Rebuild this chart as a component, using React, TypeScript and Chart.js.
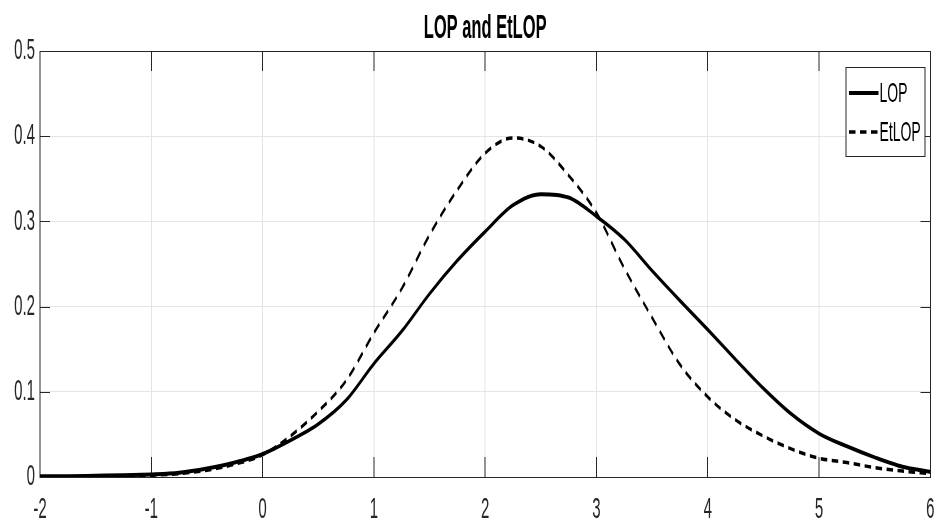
import { useEffect, useRef } from 'react';
import { Chart, registerables } from 'chart.js';

Chart.register(...registerables);

const chartTitle = 'LOP and EtLOP';
const seriesLabels = ['LOP', 'EtLOP'];
const xValues = [
  -2, -1.75, -1.5, -1.25, -1, -0.75, -0.5, -0.25, 0, 0.25, 0.5, 0.75, 1, 1.25, 1.5, 1.75, 2,
  2.25, 2.5, 2.75, 3, 3.25, 3.5, 3.75, 4, 4.25, 4.5, 4.75, 5, 5.25, 5.5, 5.75, 6,
];
const lopValues = [
  0.001, 0.001, 0.0015, 0.002, 0.003, 0.005, 0.01, 0.017, 0.027, 0.043, 0.062, 0.09, 0.133,
  0.171, 0.215, 0.254, 0.288, 0.319, 0.332, 0.328, 0.306, 0.279, 0.242, 0.207, 0.173, 0.138,
  0.104, 0.074, 0.051, 0.036, 0.023, 0.012, 0.006,
];
const etlopValues = [
  0.0, 0.0, 0.001, 0.001, 0.002, 0.004, 0.008, 0.015, 0.026, 0.048, 0.077, 0.113, 0.169,
  0.221, 0.284, 0.337, 0.38, 0.398, 0.388, 0.354, 0.31, 0.245, 0.187, 0.132, 0.094, 0.067,
  0.048, 0.033, 0.022, 0.017, 0.011, 0.007, 0.004,
];
const xTicks = [-2, -1, 0, 1, 2, 3, 4, 5, 6];
const yTicks = [0, 0.1, 0.2, 0.3, 0.4, 0.5];

const SX = 2; // internal horizontal scale; canvas is compressed back by CSS
const W = 942;
const H = 529;
const FONT = "'Liberation Sans', Arial, Helvetica, sans-serif";
const AXIS_COLOR = '#262626';

const boxPlugin = {
  id: 'boxTicks',
  beforeDatasetsDraw(chart: any) {
    const { ctx, chartArea } = chart;
    const { left, right, top, bottom } = chartArea;
    const xs = chart.scales.x;
    const ys = chart.scales.y;
    const L = Math.round(left);
    const R = Math.round(right);
    const T = Math.round(top);
    const B = Math.round(bottom);
    ctx.save();
    ctx.fillStyle = AXIS_COLOR;
    xTicks.forEach((v) => {
      const px = Math.round(xs.getPixelForValue(v));
      ctx.fillRect(px - 1, B - 20, 2, 20);
      ctx.fillRect(px - 1, T, 2, 20);
    });
    yTicks.forEach((v) => {
      const py = Math.round(ys.getPixelForValue(v));
      ctx.fillRect(L, py, 20, 1);
      ctx.fillRect(R - 20, py, 20, 1);
    });
    ctx.fillRect(L - 1, T, R - L + 2, 1);
    ctx.fillRect(L - 1, B, R - L + 2, 1);
    ctx.fillRect(L - 1, T, 2, B - T + 1);
    ctx.fillRect(R - 1, T, 2, B - T + 1);
    ctx.restore();
  },
  afterDraw(chart: any) {
    const { ctx, chartArea } = chart;
    ctx.save();
    ctx.fillStyle = '#000000';
    ctx.font = `bold 33px ${FONT}`;
    ctx.textAlign = 'center';
    ctx.textBaseline = 'alphabetic';
    ctx.fillText(chartTitle, (chartArea.left + chartArea.right) / 2, 38);
    ctx.restore();
  },
};

const legendPlugin = {
  id: 'boxLegend',
  afterDatasetsDraw(chart: any) {
    const { ctx } = chart;
    const bx = 1691;
    const by = 67;
    const bw = 160;
    const bh = 89;
    ctx.save();
    ctx.fillStyle = '#ffffff';
    ctx.fillRect(bx, by, bw, bh);
    ctx.fillStyle = AXIS_COLOR;
    ctx.fillRect(bx, by, bw, 1);
    ctx.fillRect(bx, by + bh, bw, 1);
    ctx.fillRect(bx, by, 2, bh + 1);
    ctx.fillRect(bx + bw - 2, by, 2, bh + 1);
    const rows = [93, 132];
    chart.data.datasets.forEach((ds: any, i: number) => {
      const yy = rows[i];
      ctx.beginPath();
      ctx.strokeStyle = ds.borderColor;
      ctx.lineWidth = ds.borderWidth;
      ctx.setLineDash(ds.borderDash || []);
      ctx.moveTo(bx + 7, yy);
      ctx.lineTo(bx + 66, yy);
      ctx.stroke();
      ctx.setLineDash([]);
      ctx.fillStyle = '#000000';
      ctx.font = `28px ${FONT}`;
      ctx.textAlign = 'left';
      ctx.textBaseline = 'middle';
      ctx.fillText(ds.label, bx + 68, yy + 1);
    });
    ctx.restore();
  },
};

export default function App() {
  const ref = useRef<HTMLCanvasElement | null>(null);

  useEffect(() => {
    if (!ref.current) return;
    const chart = new Chart(ref.current, {
      type: 'line',
      data: {
        datasets: [
          {
            label: seriesLabels[0],
            data: xValues.map((x, i) => ({ x, y: lopValues[i] })),
            borderColor: '#000000',
            borderWidth: 4,
            pointRadius: 0,
            cubicInterpolationMode: 'monotone',
            fill: false,
          },
          {
            label: seriesLabels[1],
            data: xValues.map((x, i) => ({ x, y: etlopValues[i] })),
            borderColor: '#000000',
            borderWidth: 3.5,
            borderDash: [13, 9],
            pointRadius: 0,
            cubicInterpolationMode: 'monotone',
            fill: false,
          },
        ],
      },
      options: {
        animation: false,
        responsive: false,
        devicePixelRatio: 1,
        layout: { padding: { left: 0, right: 18, top: 51, bottom: 0 } },
        plugins: {
          legend: { display: false },
          tooltip: { enabled: false },
          title: { display: false },
        },
        scales: {
          x: {
            type: 'linear',
            min: -2,
            max: 6,
            afterFit: (s: any) => {
              s.height = 52;
            },
            afterBuildTicks: (s: any) => {
              s.ticks = xTicks.map((v) => ({ value: v }));
            },
            ticks: {
              color: AXIS_COLOR,
              font: { family: FONT, size: 30 },
              padding: 15,
              maxRotation: 0,
              callback: (v: any) => String(v),
            },
            grid: { color: '#e4e4e4', lineWidth: 2, drawTicks: false },
            border: { display: false },
          },
          y: {
            type: 'linear',
            min: 0,
            max: 0.5,
            afterFit: (s: any) => {
              s.width = 80;
            },
            afterBuildTicks: (s: any) => {
              s.ticks = yTicks.map((v) => ({ value: v }));
            },
            ticks: {
              color: AXIS_COLOR,
              font: { family: FONT, size: 30 },
              padding: 10,
              callback: (v: any) => String(Number(Number(v).toFixed(1))),
            },
            grid: { color: '#e4e4e4', lineWidth: 1, drawTicks: false },
            border: { display: false },
          },
        },
      },
      plugins: [boxPlugin, legendPlugin],
    });
    return () => chart.destroy();
  }, []);

  return (
    <div
      style={{
        position: 'fixed',
        left: 0,
        top: 0,
        width: W,
        height: H,
        overflow: 'hidden',
        background: '#ffffff',
      }}
    >
      <canvas
        ref={ref}
        width={W * SX}
        height={H}
        style={{
          display: 'block',
          width: W * SX,
          height: H,
          transform: `scaleX(${1 / SX})`,
          transformOrigin: '0 0',
        }}
      />
    </div>
  );
}
